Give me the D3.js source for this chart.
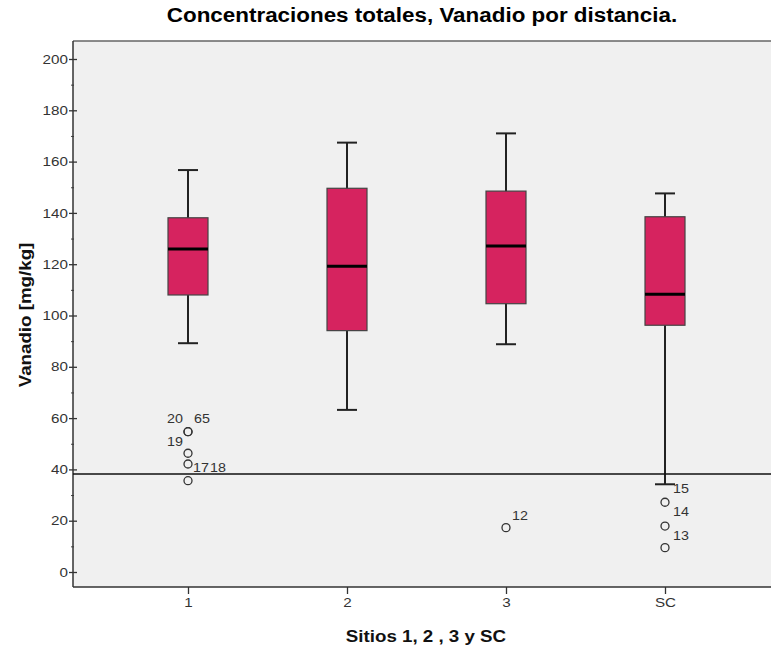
<!DOCTYPE html>
<html>
<head>
<meta charset="utf-8">
<script src="https://cdn.jsdelivr.net/npm/d3@7"></script>
<style>
  html, body { margin: 0; padding: 0; background: #fff; }
  svg { display: block; font-family: "Liberation Sans", Arial, sans-serif; }
</style>
</head>
<body>
<div id="chart"></div>
<script>
// sites on the x axis
const sites = ["1", "2", "3", "SC"];
// box plot summaries, Vanadio [mg/kg]
const whiskerLow  = [89.2, 63.2, 88.8, 34.2];
const q1          = [108.0, 94.1, 104.6, 96.2];
const median      = [125.9, 119.2, 127.1, 108.3];
const q3          = [138.1, 149.6, 148.5, 138.5];
const whiskerHigh = [156.7, 167.4, 171.0, 147.6];
// outliers (case number labels)
const outlierSite  = ["1", "1", "1", "1", "1", "3", "SC", "SC", "SC"];
const outlierValue = [54.7, 54.7, 46.3, 42.1, 35.6, 17.3, 27.2, 17.9, 9.5];
const outlierCase  = ["20", "65", "19", "18", "17", "12", "15", "14", "13"];
// reference line
const refValue = 38.2;
const yTicks = [0, 20, 40, 60, 80, 100, 120, 140, 160, 180, 200];

// label placement (dx, dy, anchor) for each outlier label
const labelPlace = [[-5, -9, "end"], [6, -9, "start"], [-5, -7, "end"], [22, 8, "start"],
                    [5, -9, "start"], [6, -8, "start"], [8, -9, "start"], [8, -10, "start"], [8, -8, "start"]];

const WIDTH = 771, HEIGHT = 653;
const LEFT = 73, TOP = 41, BOTTOM = 587, RIGHT = 800;
const STRETCH = 1.17;

var stretch = function (sel, k) {
    sel.each(function () {
        var w = this.getComputedTextLength();
        d3.select(this).attr("textLength", w * k).attr("lengthAdjust", "spacingAndGlyphs");
    });
};

var svg = d3.select("#chart").append("svg")
    .attr("width", WIDTH)
    .attr("height", HEIGHT);

var y = d3.scaleLinear().domain([0, 200]).range([572, 59]);
var x = d3.scalePoint().domain(sites).range([188, 665]);

// plot background
svg.append("rect")
    .attr("x", LEFT).attr("y", TOP)
    .attr("width", RIGHT - LEFT).attr("height", BOTTOM - TOP)
    .attr("fill", "#f0f0f0");
svg.append("line")
    .attr("x1", LEFT).attr("x2", RIGHT).attr("y1", TOP).attr("y2", TOP)
    .attr("stroke", "#666").attr("stroke-width", 1.5);

// y axis minor ticks
var minor = svg.append("g")
    .attr("transform", "translate(" + LEFT + ",0)")
    .call(d3.axisLeft(y).tickValues(d3.range(10, 200, 20)).tickSize(2).tickFormat(""));
minor.select(".domain").remove();
minor.selectAll("line").attr("x1", 1).attr("stroke", "#444");

// y axis major ticks
var yAxis = svg.append("g")
    .attr("transform", "translate(" + LEFT + ",0)")
    .call(d3.axisLeft(y).tickValues(yTicks).tickSize(4).tickPadding(1));
yAxis.select(".domain").remove();
yAxis.selectAll("line").attr("x1", 4).attr("stroke", "#333").attr("stroke-width", 1.3);
yAxis.selectAll("text")
    .attr("font-size", 13).attr("fill", "#333")
    .style("font-family", "'Liberation Sans', Arial, sans-serif")
    .call(stretch, STRETCH);

svg.append("line")
    .attr("x1", LEFT).attr("x2", LEFT).attr("y1", TOP).attr("y2", BOTTOM)
    .attr("stroke", "#333").attr("stroke-width", 1.5);

// x axis
var xAxis = svg.append("g")
    .attr("transform", "translate(0," + BOTTOM + ")")
    .call(d3.axisBottom(x).tickSize(7).tickPadding(4));
xAxis.select(".domain").remove();
xAxis.selectAll("line").attr("stroke", "#333").attr("stroke-width", 1.3);
xAxis.selectAll("text")
    .attr("font-size", 13).attr("fill", "#333")
    .style("font-family", "'Liberation Sans', Arial, sans-serif")
    .call(stretch, STRETCH);
svg.append("line")
    .attr("x1", LEFT).attr("x2", RIGHT).attr("y1", BOTTOM).attr("y2", BOTTOM)
    .attr("stroke", "#333").attr("stroke-width", 1.5);

// boxes
var boxW = 40, capW = 20;
var boxes = svg.selectAll(".box")
    .data(sites)
    .enter().append("g")
    .attr("class", "box");

boxes.append("line")
    .attr("x1", function (d) { return x(d); })
    .attr("x2", function (d) { return x(d); })
    .attr("y1", function (d, i) { return y(whiskerLow[i]); })
    .attr("y2", function (d, i) { return y(whiskerHigh[i]); })
    .attr("stroke", "#222").attr("stroke-width", 2);

boxes.append("line")
    .attr("x1", function (d) { return x(d) - capW / 2; })
    .attr("x2", function (d) { return x(d) + capW / 2; })
    .attr("y1", function (d, i) { return y(whiskerLow[i]); })
    .attr("y2", function (d, i) { return y(whiskerLow[i]); })
    .attr("stroke", "#222").attr("stroke-width", 2);

boxes.append("line")
    .attr("x1", function (d) { return x(d) - capW / 2; })
    .attr("x2", function (d) { return x(d) + capW / 2; })
    .attr("y1", function (d, i) { return y(whiskerHigh[i]); })
    .attr("y2", function (d, i) { return y(whiskerHigh[i]); })
    .attr("stroke", "#222").attr("stroke-width", 2);

boxes.append("rect")
    .attr("x", function (d) { return x(d) - boxW / 2; })
    .attr("y", function (d, i) { return y(q3[i]); })
    .attr("width", boxW)
    .attr("height", function (d, i) { return y(q1[i]) - y(q3[i]); })
    .attr("fill", "#d6235f")
    .attr("stroke", "#444").attr("stroke-width", 1.2);

boxes.append("line")
    .attr("x1", function (d) { return x(d) - boxW / 2; })
    .attr("x2", function (d) { return x(d) + boxW / 2; })
    .attr("y1", function (d, i) { return y(median[i]); })
    .attr("y2", function (d, i) { return y(median[i]); })
    .attr("stroke", "#000").attr("stroke-width", 3);

// reference line
svg.append("line")
    .attr("x1", LEFT).attr("x2", RIGHT)
    .attr("y1", y(refValue)).attr("y2", y(refValue))
    .attr("stroke", "#111").attr("stroke-width", 1.4);

// outliers
svg.selectAll(".outlier")
    .data(outlierValue)
    .enter().append("circle")
    .attr("class", "outlier")
    .attr("cx", function (d, i) { return x(outlierSite[i]); })
    .attr("cy", function (d) { return y(d); })
    .attr("r", 4)
    .attr("fill", "none")
    .attr("stroke", "#333").attr("stroke-width", 1.3);

svg.selectAll(".olabel")
    .data(outlierCase)
    .enter().append("text")
    .attr("class", "olabel")
    .attr("x", function (d, i) { return x(outlierSite[i]) + labelPlace[i][0]; })
    .attr("y", function (d, i) { return y(outlierValue[i]) + labelPlace[i][1]; })
    .attr("text-anchor", function (d, i) { return labelPlace[i][2]; })
    .attr("font-size", 13).attr("fill", "#333")
    .text(function (d) { return d; })
    .call(stretch, 1.1);

// titles
svg.append("text")
    .attr("x", 422).attr("y", 22)
    .attr("text-anchor", "middle")
    .attr("font-size", 20).attr("font-weight", "bold").attr("fill", "#000")
    .text("Concentraciones totales, Vanadio por distancia.")
    .call(stretch, 1.12);

svg.append("text")
    .attr("x", 426).attr("y", 642)
    .attr("text-anchor", "middle")
    .attr("font-size", 16).attr("font-weight", "bold").attr("fill", "#111")
    .text("Sitios 1, 2 , 3 y SC")
    .call(stretch, STRETCH);

svg.append("text")
    .attr("transform", "translate(31,315) rotate(-90)")
    .attr("text-anchor", "middle")
    .attr("font-size", 16).attr("font-weight", "bold").attr("fill", "#111")
    .text("Vanadio [mg/kg]")
    .call(stretch, STRETCH);
</script>
</body>
</html>
